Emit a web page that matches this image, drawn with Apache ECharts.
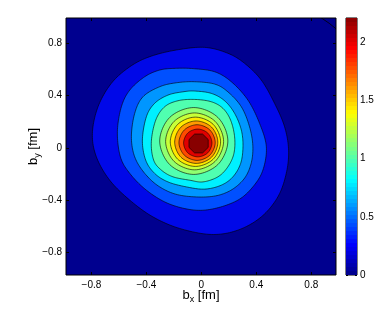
<!DOCTYPE html>
<html><head><meta charset="utf-8">
<script src="https://cdn.jsdelivr.net/npm/echarts@6/dist/echarts.min.js"></script>
<style>html,body{margin:0;padding:0;background:#fff}#c{width:392px;height:316px}</style>
</head><body><div id="c"></div>
<script>
// ---- data ----
const xTicks = [-0.8, -0.4, 0, 0.4, 0.8];
const yTicks = [-0.8, -0.4, 0, 0.4, 0.8];
const cbTicks = [0, 0.5, 1, 1.5, 2];
const xRange = [-0.985, 0.98];
const yRange = [-0.97, 0.99];
const cRange = [0, 2.21];
// contour level values (approx.)
const levels = [0.18, 0.36, 0.54, 0.72, 0.9, 1.08, 1.26, 1.44, 1.62, 1.8, 1.98, 2.16];
// contour boundaries [bx, by] in fm, outer -> inner
const level1 = [[-0.793,0.110],[-0.752,0.313],[-0.655,0.492],[-0.521,0.618],[-0.376,0.695],[-0.182,0.746],[0.024,0.766],[0.193,0.721],[0.315,0.644],[0.436,0.517],[0.533,0.339],[0.606,0.160],[0.635,-0.018],[0.618,-0.195],[0.557,-0.374],[0.436,-0.527],[0.266,-0.628],[0.073,-0.661],[-0.158,-0.615],[-0.352,-0.527],[-0.521,-0.399],[-0.667,-0.247],[-0.764,-0.069]];
const level2 = [[-0.611,0.122],[-0.582,0.313],[-0.521,0.440],[-0.412,0.542],[-0.303,0.593],[-0.190,0.606],[-0.060,0.604],[0.097,0.580],[0.218,0.504],[0.339,0.364],[0.424,0.186],[0.473,0.008],[0.448,-0.170],[0.375,-0.298],[0.266,-0.399],[0.097,-0.463],[-0.060,-0.474],[-0.243,-0.424],[-0.400,-0.323],[-0.521,-0.195],[-0.589,-0.069]];
const level3 = [[-0.509,0.084],[-0.485,0.263],[-0.425,0.389],[-0.303,0.466],[-0.182,0.496],[-0.049,0.504],[0.097,0.486],[0.193,0.427],[0.291,0.313],[0.351,0.160],[0.375,0.008],[0.359,-0.132],[0.303,-0.247],[0.193,-0.336],[0.048,-0.374],[-0.158,-0.361],[-0.303,-0.298],[-0.412,-0.195],[-0.485,-0.069]];
const level4 = [[-0.429,0.059],[-0.400,0.237],[-0.340,0.339],[-0.243,0.402],[-0.134,0.427],[-0.049,0.433],[0.073,0.415],[0.169,0.359],[0.242,0.263],[0.291,0.135],[0.303,0.008],[0.286,-0.119],[0.230,-0.221],[0.145,-0.285],[0.024,-0.315],[-0.109,-0.298],[-0.243,-0.260],[-0.340,-0.195],[-0.405,-0.094]];
const level5 = [[-0.364,0.046],[-0.332,0.211],[-0.267,0.313],[-0.170,0.359],[-0.049,0.369],[0.073,0.351],[0.157,0.301],[0.213,0.211],[0.242,0.084],[0.237,-0.043],[0.193,-0.145],[0.121,-0.221],[0.012,-0.260],[-0.085,-0.247],[-0.207,-0.221],[-0.291,-0.170],[-0.347,-0.094]];
const level6 = [[0.193,0.052],[0.120,0.232],[-0.055,0.307],[-0.230,0.232],[-0.303,0.052],[-0.230,-0.128],[-0.055,-0.203],[0.120,-0.128]];
const level7 = [[0.162,0.049],[0.100,0.202],[-0.049,0.266],[-0.198,0.202],[-0.260,0.049],[-0.198,-0.104],[-0.049,-0.168],[0.100,-0.104]];
const level8 = [[0.140,0.046],[0.086,0.179],[-0.043,0.234],[-0.172,0.179],[-0.226,0.046],[-0.172,-0.087],[-0.043,-0.142],[0.086,-0.087]];
const level9 = [[0.120,0.043],[0.074,0.158],[-0.037,0.205],[-0.148,0.158],[-0.194,0.043],[-0.148,-0.072],[-0.037,-0.119],[0.074,-0.072]];
const level10 = [[0.101,0.040],[0.062,0.136],[-0.031,0.176],[-0.124,0.136],[-0.163,0.040],[-0.124,-0.056],[-0.031,-0.096],[0.062,-0.056]];
const level11 = [[0.077,0.037],[0.047,0.112],[-0.026,0.143],[-0.099,0.112],[-0.129,0.037],[-0.099,-0.038],[-0.026,-0.069],[0.047,-0.038]];
const level12 = [[0.050,0.063],[0.009,0.105],[-0.049,0.105],[-0.090,0.063],[-0.090,0.003],[-0.049,-0.039],[0.009,-0.039],[0.050,0.003]];
// zero-level contour in the upper right corner
const zeroLine = [[0.860,1.000],[0.930,0.950],[0.995,0.895]];

// ---- styling ----
const contours = [level1,level2,level3,level4,level5,level6,level7,level8,level9,level10,level11,level12];
const bandColors = ['#0008E8','#0050FF','#0096FF','#00F0FF','#50FFB0','#90FF70','#C8FF38','#FFE800','#FF9A00','#FF4A00','#E00000','#880000'];
const FONT = 'Liberation Sans, Arial, Helvetica, sans-serif';

function jet(t){
  const c = x => Math.max(0, Math.min(1, 1.5 - Math.abs(x)));
  return 'rgb(' + Math.round(c(4*t-3)*255) + ',' + Math.round(c(4*t-2)*255) + ',' + Math.round(c(4*t-1)*255) + ')';
}
const jetStops = [];
for (let j = 0; j < 64; j++) {
  const col = jet((j + 1) / 65);
  jetStops.push({offset: j / 64, color: col});
  jetStops.push({offset: (j + 1) / 64, color: col});
}
const fmt = v => (v < 0 ? '\u2212' + Math.abs(v) : String(v));

// closed Catmull-Rom outline through the (pixel) points — rendering only
function smoothClosed(pts, steps) {
  const n = pts.length, out = [];
  for (let i = 0; i < n; i++) {
    const p0 = pts[(i - 1 + n) % n], p1 = pts[i], p2 = pts[(i + 1) % n], p3 = pts[(i + 2) % n];
    for (let s = 0; s < steps; s++) {
      const t = s / steps, t2 = t * t, t3 = t2 * t;
      const f = k => 0.5 * ((2 * p1[k]) + (-p0[k] + p2[k]) * t + (2 * p0[k] - 5 * p1[k] + 4 * p2[k] - p3[k]) * t2 + (-p0[k] + 3 * p1[k] - 3 * p2[k] + p3[k]) * t3);
      out.push([f(0), f(1)]);
    }
  }
  return out;
}

const tickStyle = {inside: true, length: 3, lineStyle: {color: '#000', width: 1}};
const noLine = {show: false, onZero: false};
const richName = {
  a: {fontSize: 13, fontFamily: FONT, color: '#000'},
  s: {fontSize: 9, fontFamily: FONT, color: '#000', padding: [9, 0, 0, 0]}
};

const chart = echarts.init(document.getElementById('c'), null, {renderer: 'canvas'});
chart.setOption({
  animation: false,
  backgroundColor: '#fff',
  grid: [
    {left: 66, top: 18, width: 270, height: 257, show: true, backgroundColor: '#00008F', borderColor: '#000', borderWidth: 1},
    {left: 346, top: 18, width: 11, height: 257, show: true, backgroundColor: 'transparent', borderColor: '#000', borderWidth: 1}
  ],
  xAxis: [
    {gridIndex: 0, type: 'value', min: xRange[0], max: xRange[1], position: 'bottom',
     axisLine: noLine, splitLine: {show: false},
     axisTick: Object.assign({customValues: xTicks}, tickStyle),
     axisLabel: {customValues: xTicks, formatter: fmt, margin: 5, fontSize: 10, fontFamily: FONT, color: '#000'},
     name: '{a|b}{s|x}{a| [fm]}', nameLocation: 'middle', nameGap: 11, nameMoveOverlap: false,
     nameTextStyle: {rich: richName}},
    {gridIndex: 0, type: 'value', min: xRange[0], max: xRange[1], position: 'top',
     axisLine: noLine, splitLine: {show: false}, axisLabel: {show: false},
     axisTick: Object.assign({customValues: xTicks}, tickStyle)},
    {gridIndex: 1, type: 'value', min: 0, max: 1, show: false, axisLine: noLine}
  ],
  yAxis: [
    {gridIndex: 0, type: 'value', min: yRange[0], max: yRange[1], position: 'left',
     axisLine: noLine, splitLine: {show: false},
     axisTick: Object.assign({customValues: yTicks}, tickStyle),
     axisLabel: {customValues: yTicks, formatter: fmt, margin: 4, fontSize: 10, fontFamily: FONT, color: '#000'},
     name: '{a|b}{s|y}{a| [fm]}', nameLocation: 'middle', nameGap: 24, nameMoveOverlap: false,
     nameTextStyle: {rich: richName}},
    {gridIndex: 0, type: 'value', min: yRange[0], max: yRange[1], position: 'right',
     axisLine: noLine, splitLine: {show: false}, axisLabel: {show: false},
     axisTick: Object.assign({customValues: yTicks}, tickStyle)},
    {gridIndex: 1, type: 'value', min: cRange[0], max: cRange[1], position: 'right',
     axisLine: noLine, splitLine: {show: false},
     axisTick: {customValues: cbTicks, inside: true, length: 2, lineStyle: {color: '#000', width: 1}},
     axisLabel: {customValues: cbTicks, margin: 3, fontSize: 10, fontFamily: FONT, color: '#000'}},
    {gridIndex: 1, type: 'value', min: cRange[0], max: cRange[1], position: 'left',
     axisLine: noLine, splitLine: {show: false}, axisLabel: {show: false},
     axisTick: {customValues: cbTicks, inside: true, length: 2, lineStyle: {color: '#000', width: 1}}}
  ],
  series: [
    {
      type: 'custom', xAxisIndex: 0, yAxisIndex: 0, clip: true, silent: true,
      data: contours.map((c, i) => [i]).concat([[contours.length]]),
      renderItem: function (params, api) {
        const i = params.dataIndex;
        if (i === contours.length) {
          return {
            type: 'polyline',
            shape: {points: zeroLine.map(p => api.coord(p))},
            style: {fill: null, stroke: '#000', lineWidth: 0.8}
          };
        }
        const pts = contours[i].map(p => api.coord(p));
        const last = i === contours.length - 1;
        return {
          type: 'polygon',
          shape: {points: last ? pts : smoothClosed(pts, 12)},
          style: {fill: bandColors[i], stroke: '#000', lineWidth: 0.6}
        };
      }
    },
    {
      type: 'custom', xAxisIndex: 2, yAxisIndex: 2, silent: true,
      data: [[0]],
      renderItem: function (params, api) {
        const p0 = api.coord([0, cRange[0]]);
        const p1 = api.coord([1, cRange[1]]);
        return {
          type: 'rect',
          shape: {x: p0[0], y: p1[1], width: p1[0] - p0[0], height: p0[1] - p1[1]},
          style: {fill: new echarts.graphic.LinearGradient(0, 1, 0, 0, jetStops)}
        };
      }
    }
  ]
});
</script>
</body></html>
